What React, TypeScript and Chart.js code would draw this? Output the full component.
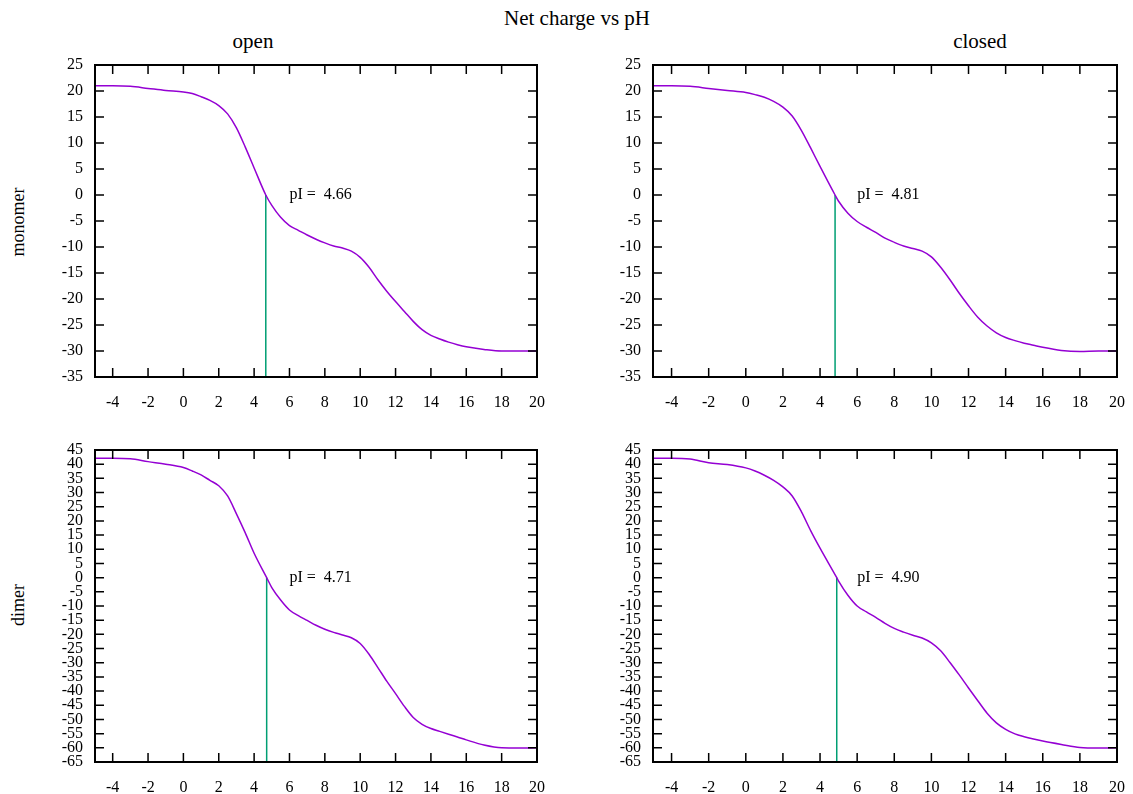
import React, { useEffect, useRef } from "react";
import { Chart, registerables } from "chart.js";

Chart.register(...registerables);

// ---------- data ----------
const PH_GRID = [-5, -4, -3, -2, -1, 0, 0.5, 1, 1.5, 2, 2.5, 3, 3.5, 4, 5, 5.5, 6, 6.5, 7, 7.5, 8, 8.5, 9, 9.5, 10, 10.5, 11, 11.5, 12, 12.5, 13, 13.5, 14, 14.5, 15, 15.5, 16, 17, 18, 19, 20];

const Q_MONOMER_OPEN = [21.0, 21.0, 20.9, 20.5, 20.1, 19.8, 19.5, 18.9, 18.2, 17.2, 15.6, 12.9, 9.2, 5.2, -2.0, -4.3, -5.9, -6.8, -7.7, -8.5, -9.2, -9.8, -10.2, -10.8, -12.0, -13.9, -16.3, -18.5, -20.5, -22.4, -24.3, -25.9, -27.0, -27.7, -28.3, -28.8, -29.2, -29.7, -30.0, -30.0, -30.0];
const Q_MONOMER_CLOSED = [21.0, 21.0, 20.9, 20.5, 20.1, 19.7, 19.3, 18.8, 18.0, 16.9, 15.2, 12.4, 9.0, 5.5, -1.2, -3.5, -5.1, -6.2, -7.2, -8.3, -9.1, -9.8, -10.3, -10.8, -11.9, -13.9, -16.3, -18.9, -21.3, -23.5, -25.2, -26.5, -27.4, -28.0, -28.5, -28.9, -29.3, -29.9, -30.1, -30.0, -30.0];
const Q_DIMER_OPEN = [42.1, 42.1, 41.9, 40.9, 40.0, 38.8, 37.6, 36.2, 34.3, 32.4, 28.8, 22.5, 15.8, 8.6, -3.5, -7.9, -11.4, -13.4, -15.1, -16.8, -18.2, -19.3, -20.2, -21.2, -23.2, -27.0, -31.7, -36.5, -40.9, -45.4, -49.3, -51.7, -53.2, -54.2, -55.2, -56.2, -57.2, -59.0, -60.0, -60.1, -60.0];
const Q_DIMER_CLOSED = [42.1, 42.1, 41.8, 40.5, 39.9, 38.7, 37.6, 36.1, 34.3, 32.0, 28.8, 23.2, 16.5, 10.4, -1.2, -6.2, -10.0, -12.1, -14.0, -16.1, -17.9, -19.2, -20.3, -21.3, -23.0, -25.8, -29.9, -34.3, -38.9, -43.4, -47.8, -51.2, -53.5, -55.1, -56.1, -56.9, -57.6, -58.8, -59.9, -60.1, -60.0];

const PI_MONOMER_OPEN = 4.66;
const PI_MONOMER_CLOSED = 4.81;
const PI_DIMER_OPEN = 4.71;
const PI_DIMER_CLOSED = 4.9;

const X_TICKS = [-4, -2, 0, 2, 4, 6, 8, 10, 12, 14, 16, 18, 20];
const Y_TICKS_MONOMER = [-35, -30, -25, -20, -15, -10, -5, 0, 5, 10, 15, 20, 25];
const Y_TICKS_DIMER = [-65, -60, -55, -50, -45, -40, -35, -30, -25, -20, -15, -10, -5, 0, 5, 10, 15, 20, 25, 30, 35, 40, 45];

const TITLE = "Net charge vs pH";
const COL_TITLES = ["open", "closed"];
const ROW_TITLES = ["monomer", "dimer"];
const PI_LABEL_X = 6;

const PURPLE = "#9400d3";
const GREEN = "#009e73";
const FONT = '"Liberation Serif", "Times New Roman", serif';

type Panel = {
  q: number[];
  pi: number;
  yTicks: number[];
  canvas: { left: number; top: number; width: number; height: number };
  yAxisWidth: number;
  xAxisHeight: number;
  padTop: number;
  padRight: number;
};

const framePlugin = {
  id: "gpFrame",
  afterDatasetsDraw(chart: any, _args: any, opts: any) {
    const { ctx, chartArea } = chart;
    const { left, right, top, bottom } = chartArea;
    const xs = chart.scales.x;
    const ys = chart.scales.y;
    const L = 9;
    ctx.save();
    ctx.strokeStyle = "#000";
    ctx.lineWidth = 1.5;
    ctx.beginPath();
    xs.ticks.forEach((t: any) => {
      const px = xs.getPixelForValue(t.value);
      ctx.moveTo(px, bottom);
      ctx.lineTo(px, bottom - L);
      ctx.moveTo(px, top);
      ctx.lineTo(px, top + L);
    });
    ys.ticks.forEach((t: any) => {
      const py = ys.getPixelForValue(t.value);
      ctx.moveTo(left, py);
      ctx.lineTo(left + L, py);
      ctx.moveTo(right, py);
      ctx.lineTo(right - L, py);
    });
    ctx.stroke();
    ctx.lineWidth = 2;
    ctx.strokeRect(left, top, right - left, bottom - top);
    ctx.fillStyle = "#000";
    ctx.font = "16px " + FONT;
    ctx.textAlign = "left";
    ctx.textBaseline = "middle";
    ctx.fillText(opts.label, xs.getPixelForValue(opts.labelX), ys.getPixelForValue(0));
    ctx.restore();
  },
};

function buildPoints(q: number[], pi: number) {
  const pts = PH_GRID.map((x, i) => ({ x, y: q[i] }));
  pts.push({ x: pi, y: 0 });
  pts.sort((a, b) => a.x - b.x);
  return pts;
}

function PanelChart({ p }: { p: Panel }) {
  const ref = useRef<HTMLCanvasElement | null>(null);
  useEffect(() => {
    if (!ref.current) return;
    const yMin = p.yTicks[0];
    const yMax = p.yTicks[p.yTicks.length - 1];
    const chart = new Chart(ref.current, {
      type: "line",
      data: {
        datasets: [
          {
            data: buildPoints(p.q, p.pi),
            borderColor: PURPLE,
            borderWidth: 1.5,
            pointRadius: 0,
            cubicInterpolationMode: "monotone",
            fill: false,
          },
          {
            data: [
              { x: p.pi, y: 0 },
              { x: p.pi, y: yMin },
            ],
            borderColor: GREEN,
            borderWidth: 1.5,
            pointRadius: 0,
            fill: false,
          },
        ],
      },
      options: {
        responsive: false,
        animation: false,
        devicePixelRatio: 1,
        layout: { padding: { top: p.padTop, right: p.padRight, left: 0, bottom: 0 } },
        plugins: {
          legend: { display: false },
          tooltip: { enabled: false },
          gpFrame: { label: "pI =  " + p.pi.toFixed(2), labelX: PI_LABEL_X },
        } as any,
        scales: {
          x: {
            type: "linear",
            min: -5,
            max: 20,
            grid: { display: false, drawTicks: false },
            border: { display: false },
            ticks: { color: "#000", font: { family: FONT, size: 16 }, padding: 16, maxRotation: 0, autoSkip: false },
            afterBuildTicks: (s: any) => {
              s.ticks = X_TICKS.map((v) => ({ value: v }));
            },
            afterFit: (s: any) => {
              s.height = p.xAxisHeight;
              s.paddingLeft = 0;
              s.paddingRight = 0;
            },
          },
          y: {
            type: "linear",
            min: yMin,
            max: yMax,
            grid: { display: false, drawTicks: false },
            border: { display: false },
            ticks: { color: "#000", font: { family: FONT, size: 16 }, padding: 12, autoSkip: false },
            afterBuildTicks: (s: any) => {
              s.ticks = p.yTicks.map((v) => ({ value: v }));
            },
            afterFit: (s: any) => {
              s.width = p.yAxisWidth;
              s.paddingTop = 0;
              s.paddingBottom = 0;
            },
          },
        },
      } as any,
      plugins: [framePlugin as any],
    });
    return () => chart.destroy();
  }, [p]);
  return (
    <canvas
      ref={ref}
      width={p.canvas.width}
      height={p.canvas.height}
      style={{
        position: "absolute",
        left: p.canvas.left,
        top: p.canvas.top,
        width: p.canvas.width,
        height: p.canvas.height,
      }}
    />
  );
}

const PANELS: Panel[] = [
  {
    q: Q_MONOMER_OPEN,
    pi: PI_MONOMER_OPEN,
    yTicks: Y_TICKS_MONOMER,
    canvas: { left: 0, top: 50, width: 560, height: 370 },
    yAxisWidth: 95,
    xAxisHeight: 43,
    padTop: 15,
    padRight: 23,
  },
  {
    q: Q_MONOMER_CLOSED,
    pi: PI_MONOMER_CLOSED,
    yTicks: Y_TICKS_MONOMER,
    canvas: { left: 566, top: 50, width: 567, height: 370 },
    yAxisWidth: 87,
    xAxisHeight: 43,
    padTop: 15,
    padRight: 16,
  },
  {
    q: Q_DIMER_OPEN,
    pi: PI_DIMER_OPEN,
    yTicks: Y_TICKS_DIMER,
    canvas: { left: 0, top: 435, width: 560, height: 359 },
    yAxisWidth: 95,
    xAxisHeight: 32,
    padTop: 15,
    padRight: 23,
  },
  {
    q: Q_DIMER_CLOSED,
    pi: PI_DIMER_CLOSED,
    yTicks: Y_TICKS_DIMER,
    canvas: { left: 566, top: 435, width: 567, height: 359 },
    yAxisWidth: 87,
    xAxisHeight: 32,
    padTop: 15,
    padRight: 16,
  },
];

const textStyle = (x: number, y: number, size: number, rotate = false): React.CSSProperties => ({
  position: "absolute",
  left: x,
  top: y,
  transform: "translate(-50%, -50%)" + (rotate ? " rotate(-90deg)" : ""),
  fontFamily: FONT,
  fontSize: size,
  color: "#000",
  whiteSpace: "nowrap",
  lineHeight: 1,
});

export default function App() {
  return (
    <div
      style={{
        position: "absolute",
        left: 0,
        top: 0,
        width: 1133,
        height: 794,
        background: "#fff",
        overflow: "hidden",
      }}
    >
      <div style={textStyle(577, 18, 21)}>{TITLE}</div>
      <div style={textStyle(253, 41, 21)}>{COL_TITLES[0]}</div>
      <div style={textStyle(980, 41, 21)}>{COL_TITLES[1]}</div>
      <div style={textStyle(18, 222, 18, true)}>{ROW_TITLES[0]}</div>
      <div style={textStyle(18, 605, 18, true)}>{ROW_TITLES[1]}</div>
      {PANELS.map((p, i) => (
        <PanelChart key={i} p={p} />
      ))}
    </div>
  );
}
